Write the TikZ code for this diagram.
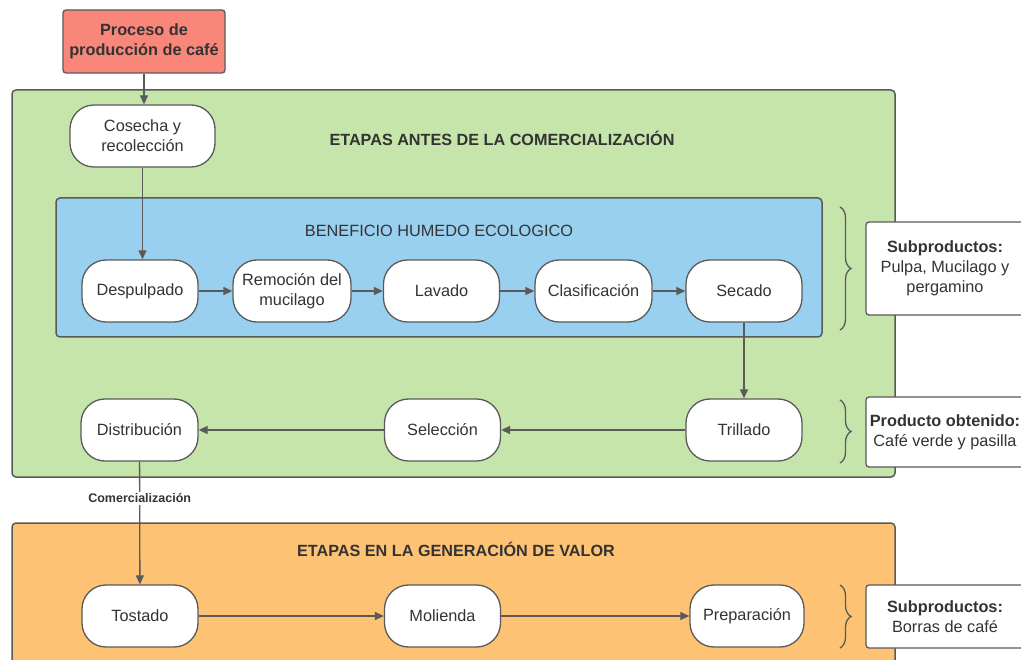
\documentclass[tikz,border=0pt]{standalone}
\usepackage{fontspec}
\setmainfont{Liberation Sans}
\usetikzlibrary{arrows.meta,decorations.pathreplacing}
\definecolor{linec}{HTML}{5A5A5A}
\definecolor{greenf}{HTML}{C6E5AA}
\definecolor{bluef}{HTML}{99D0EF}
\definecolor{orangef}{HTML}{FDC274}
\definecolor{redf}{HTML}{F8877A}
\definecolor{textc}{HTML}{333333}
\begin{document}
\begin{tikzpicture}[x=1pt,y=-1pt,
  proc/.style={draw=linec, line width=1.3pt, fill=white, rounded corners=24pt,
    minimum width=116pt, minimum height=62pt, align=center, text=textc,
    font=\fontsize{16.3}{20}\selectfont, inner sep=1pt},
  info/.style={draw=linec, line width=1.3pt, fill=white, rounded corners=3pt,
    minimum width=158pt, align=center, text=textc,
    font=\fontsize{16.3}{20}\selectfont, inner sep=1pt},
  area/.style={draw=linec, line width=1.5pt, rounded corners=4pt},
  arr/.style={draw=linec, line width=1.3pt, -{Triangle[length=9pt,width=8pt]}},
  title/.style={text=textc, font=\fontsize{16.2}{19}\selectfont\bfseries},
  brc/.style={draw=linec, line width=1.3pt, decorate,
    decoration={brace, amplitude=11pt}}
]
\clip (0,0) rectangle (1021,660);
\fill[white] (0,0) rectangle (1021,660);
% areas
\draw[area, fill=greenf] (12,90) rectangle (895,477);
\draw[area, fill=bluef] (56,198) rectangle (822,337);
\draw[area, fill=orangef] (12,523) rectangle (895,680);
% titles
\node[title] (t1) at (502,138) {ETAPAS ANTES DE LA COMERCIALIZACIÓN};
\node[text=textc, font=\fontsize{16.3}{19}\selectfont] (t2) at (439,231) {BENEFICIO HUMEDO ECOLOGICO};
\node[title] (t3) at (456,549) {ETAPAS EN LA GENERACIÓN DE VALOR};
% start
\node[draw=linec, line width=1.3pt, fill=redf, rounded corners=3pt,
  minimum width=162pt, minimum height=63pt, align=center, text=textc,
  font=\fontsize{16.3}{20}\selectfont\bfseries] (start) at (144,41.5) {Proceso de\\producción de café};
% nodes
\node[proc, minimum width=145pt] (cos) at (142.5,136) {Cosecha y\\recolección};
\node[proc] (desp) at (140,291) {Despulpado};
\node[proc, minimum width=118pt] (rem) at (292,291) {Remoción del\\mucilago};
\node[proc] (lav) at (441.5,291) {Lavado};
\node[proc, minimum width=117pt] (cla) at (593.5,291) {Clasificación};
\node[proc] (sec) at (744,291) {Secado};
\node[proc] (tri) at (744,430) {Trillado};
\node[proc] (sel) at (442.5,430) {Selección};
\node[proc, minimum width=117pt] (dis) at (139.5,430) {Distribución};
\node[proc] (tos) at (140,616) {Tostado};
\node[proc] (mol) at (442.5,616) {Molienda};
\node[proc, minimum width=114pt] (pre) at (747,616) {Preparación};
% arrows
\draw[arr] (start) -- (start |- cos.north);
\draw[arr] (cos) -- (cos |- desp.north);
\draw[arr] (desp) -- (rem);
\draw[arr] (rem) -- (lav);
\draw[arr] (lav) -- (cla);
\draw[arr] (cla) -- (sec);
\draw[arr] (sec) -- (tri);
\draw[arr] (tri) -- (sel);
\draw[arr] (sel) -- (dis);
\draw[arr] (dis) -- node[pos=0.3, fill=white, inner sep=2pt, text=textc,
  font=\fontsize{12.5}{14}\selectfont\bfseries] (com) {Comercialización} (tos);
\draw[arr] (tos) -- (mol);
\draw[arr] (mol) -- (pre);
% braces
\coordinate (b1a) at (840,207);
\coordinate (b1b) at (840,330);
\coordinate (b2a) at (840,400);
\coordinate (b2b) at (840,463);
\coordinate (b3a) at (840,585);
\coordinate (b3b) at (840,648);
\draw[brc] (b1a) -- (b1b);
\draw[brc] (b2a) -- (b2b);
\draw[brc] (b3a) -- (b3b);
% info boxes
\node[info, minimum height=93pt] (i1) at (945,268.5) {\textbf{Subproductos:}\\Pulpa, Mucilago y\\pergamino};
\node[info, minimum height=70pt] (i2) at (945,432) {\textbf{Producto obtenido:}\\Café verde y pasilla};
\node[info, minimum height=63pt] (i3) at (945,616.5) {\textbf{Subproductos:}\\Borras de café};
\end{tikzpicture}
\end{document}
